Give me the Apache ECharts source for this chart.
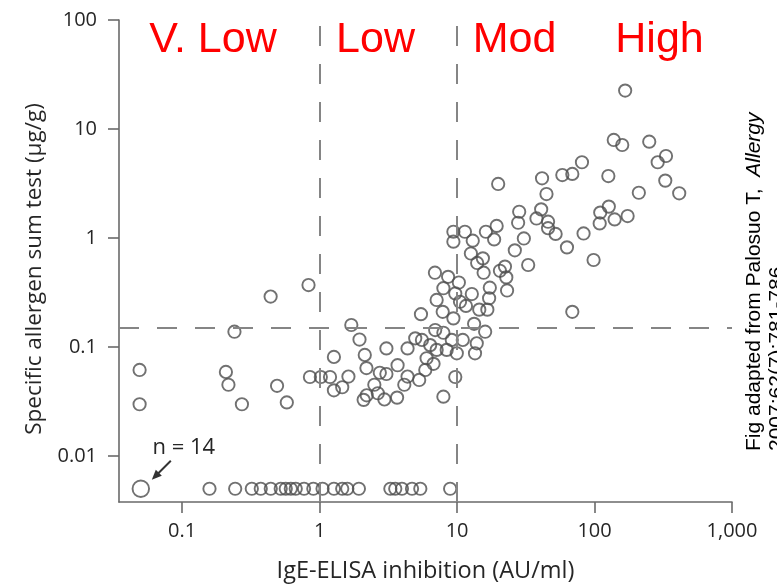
<!DOCTYPE html>
<html>
<head>
<meta charset="utf-8">
<script src="https://cdn.jsdelivr.net/npm/echarts@6/dist/echarts.min.js"></script>
<style>
html,body{margin:0;padding:0;background:#fff;}
#chart{width:777px;height:584px;}
</style>
</head>
<body>
<div id="chart"></div>
<script>
// ---- data ----
const xTickValues = [0.1, 1, 10, 100, 1000];
const yTickValues = [0.01, 0.1, 1, 10, 100];
const bandNames = ['V. Low', 'Low', 'Mod', 'High'];
const xCutoffs = [1, 10];
const yCutoff = 0.15;
const floorY = 0.005;
const floorX = [0.158, 0.243, 0.321, 0.373, 0.441, 0.521, 0.567, 0.617, 0.67, 0.77, 0.9, 1.05,
  1.27, 1.46, 1.59, 1.93, 3.27, 3.55, 3.97, 4.7, 5.4, 8.9];
const pointX = [
  0.049, 0.049, 0.208, 0.217, 0.24, 0.272, 0.44, 0.49, 0.577, 0.83,
  0.85, 1.02, 1.19, 1.27, 1.27, 1.46, 1.62, 1.70, 1.95, 2.13,
  2.19, 2.09, 2.2, 2.5, 2.65, 2.74, 2.96, 3.06, 3.06, 3.66,
  3.69, 4.13, 4.36, 4.36, 5.3, 5.87, 6.0, 6.74, 4.96, 5.55,
  5.46, 6.37, 6.93, 7.1, 7.95, 8.4, 7.95, 9.7, 9.95, 9.15,
  11, 7.1, 7.86, 9.4, 7.95, 9.7, 10.3, 8.6, 6.9, 10.5,
  11.6, 12.8,
  9.4, 11.4, 9.4, 13, 16.2, 19.4, 18.6, 30.6, 26.3, 32.9,
  28.3, 27.8, 37.8, 12.6, 14, 15.4, 15.6, 20.5, 22.3, 22.8,
  23.1, 17.3, 17.1, 16.6, 14.5, 13.3, 16, 13.9, 13.5,
  167, 138, 159, 250, 331, 288, 327, 413, 210, 126,
  81, 68.9, 58.3, 41.5, 44.7, 19.9, 40.9, 45.9, 45.9, 52.1,
  63, 83.2, 98.4, 110, 127, 109, 140, 174, 68.9
];
const pointY = [
  0.0615, 0.0298, 0.059, 0.045, 0.138, 0.0298, 0.29, 0.044, 0.031, 0.37,
  0.053, 0.053, 0.053, 0.081, 0.040, 0.0427, 0.0535, 0.159, 0.117, 0.0845,
  0.064, 0.0327, 0.036, 0.045, 0.0376, 0.058, 0.033, 0.097, 0.0565, 0.0343,
  0.068, 0.045, 0.0535, 0.097, 0.0498, 0.0615, 0.0787, 0.07, 0.12, 0.116,
  0.2, 0.104, 0.143, 0.094, 0.135, 0.094, 0.035, 0.053, 0.0875, 0.116,
  0.116, 0.27, 0.21, 0.183, 0.346, 0.31, 0.39, 0.44, 0.48, 0.26,
  0.238, 0.306,
  1.14, 1.14, 0.925, 0.945, 1.14, 1.29, 0.97, 0.99, 0.77, 0.565,
  1.74, 1.38, 1.51, 0.72, 0.59, 0.65, 0.48, 0.5, 0.546, 0.435,
  0.33, 0.35, 0.28, 0.22, 0.22, 0.163, 0.138, 0.108, 0.0875,
  22.5, 7.93, 7.13, 7.65, 5.65, 4.95, 3.36, 2.57, 2.6, 3.7,
  4.95, 3.87, 3.78, 3.53, 2.53, 3.13, 1.83, 1.41, 1.23, 1.09,
  0.82, 1.1, 0.628, 1.71, 1.94, 1.36, 1.48, 1.59, 0.21
];
const pooledPoint = [0.05, 0.005];
const pooledLabel = 'n = 14';
const sourceLine1 = 'Fig adapted from Palosuo T,  ';
const sourceJournal = 'Allergy';
const sourceLine2 = '2007;62(7):781-786';

// ---- chart ----
const FONT = '"Open Sans", sans-serif';
const TEXT = '#262626';
const chart = echarts.init(document.getElementById('chart'), null, {renderer: 'canvas'});

const scatterData = pointX.map((x, i) => [x, pointY[i]]).concat(floorX.map(x => [x, floorY]));
const fmt = v => Number(Number(v).toPrecision(6)).toLocaleString('en-US', {maximumFractionDigits: 4});

const axisLineStyle = {color: '#6a6a6a', width: 1.6};
const symbolStyle = {color: 'rgba(0,0,0,0)', borderColor: '#4d4d4d', borderWidth: 1.9};

chart.setOption({
  animation: false,
  grid: {left: 119, right: 45, top: 20, bottom: 82, containLabel: false, outerBoundsMode: 'none'},
  xAxis: {
    type: 'log', logBase: 10, min: 0.0347, max: 1000,
    name: 'IgE-ELISA inhibition (AU/ml)', nameLocation: 'middle', nameGap: 57,
    nameTextStyle: {fontFamily: FONT, fontSize: 23.5, color: TEXT},
    axisLine: {show: true, onZero: false, lineStyle: axisLineStyle},
    axisTick: {show: true, length: 11, customValues: xTickValues, lineStyle: axisLineStyle},
    axisLabel: {customValues: xTickValues, formatter: fmt, margin: 19, fontFamily: FONT, fontSize: 20, color: TEXT},
    splitLine: {show: false}, minorTick: {show: false}, minorSplitLine: {show: false}
  },
  yAxis: {
    type: 'log', logBase: 10, min: 0.00378, max: 100,
    name: 'Specific allergen sum test (\u03bcg/g)', nameLocation: 'middle', nameGap: 70,
    nameTextStyle: {fontFamily: FONT, fontSize: 22.5, color: TEXT, padding: [0, 16, 0, 0]},
    axisLine: {show: true, onZero: false, lineStyle: axisLineStyle},
    axisTick: {show: true, length: 11, customValues: yTickValues, lineStyle: axisLineStyle},
    axisLabel: {customValues: yTickValues, formatter: fmt, margin: 22, fontFamily: FONT, fontSize: 20, color: TEXT},
    splitLine: {show: false}, minorTick: {show: false}, minorSplitLine: {show: false}
  },
  series: [
    {
      type: 'scatter', symbol: 'circle', symbolSize: 12.3,
      data: scatterData, itemStyle: symbolStyle, emphasis: {disabled: true}, silent: true,
      markLine: {
        silent: true, symbol: 'none', label: {show: false}, animation: false,
        lineStyle: {color: '#858585', width: 2, type: [20, 18]},
        data: xCutoffs.map(v => ({xAxis: v})).concat([{yAxis: yCutoff}])
      }
    },
    {
      type: 'scatter', symbol: 'circle', symbolSize: 16.5,
      data: [pooledPoint], itemStyle: symbolStyle, emphasis: {disabled: true}, silent: true
    }
  ]
});

const p = chart.convertToPixel({xAxisIndex: 0, yAxisIndex: 0}, pooledPoint);
const bandCenterPx = [213, 375.5, 514.5, 659.5];
chart.setOption({
  graphic: [
    ...bandNames.map((t, i) => ({
      type: 'text', x: bandCenterPx[i], y: 40, silent: true,
      style: {text: t, fill: '#ff0000', font: '43px "Liberation Sans", Arial, sans-serif',
              textAlign: 'center', textVerticalAlign: 'middle'}
    })),
    {
      type: 'text', x: p[0] + 43, y: p[1] - 41, silent: true,
      style: {text: pooledLabel, fill: TEXT, font: '22px ' + FONT, textAlign: 'center', textVerticalAlign: 'middle'}
    },
    {
      type: 'line', silent: true,
      shape: {x1: p[0] + 30, y1: p[1] - 28, x2: p[0] + 14, y2: p[1] - 12},
      style: {stroke: '#333', lineWidth: 2}
    },
    {
      type: 'polygon', silent: true,
      shape: {points: [[p[0] + 11, p[1] - 9], [p[0] + 21, p[1] - 13], [p[0] + 15, p[1] - 19]]},
      style: {fill: '#333'}
    },
    {
      type: 'text', x: 754, y: 451, rotation: Math.PI / 2, silent: true,
      style: {
        text: '{a|' + sourceLine1 + '}{b|' + sourceJournal + '}',
        textAlign: 'left', textVerticalAlign: 'middle',
        rich: {
          a: {fontFamily: '"Liberation Sans", Arial', fontSize: 21, fill: '#000'},
          b: {fontFamily: '"Liberation Sans", Arial', fontSize: 21, fontStyle: 'italic', fill: '#000'}
        }
      }
    },
    {
      type: 'text', x: 777, y: 451, rotation: Math.PI / 2, silent: true,
      style: {text: sourceLine2, font: '21px "Liberation Sans", Arial', fill: '#000',
              textAlign: 'left', textVerticalAlign: 'middle'}
    }
  ]
});
</script>
</body>
</html>
